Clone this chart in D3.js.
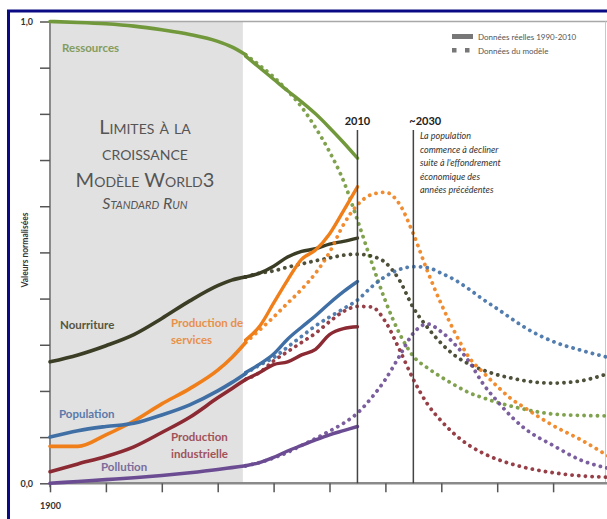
<!DOCTYPE html>
<html><head><meta charset="utf-8">
<script src="https://cdn.jsdelivr.net/npm/d3@7"></script>
<style>
html,body{margin:0;padding:0;background:#fff;}
svg{display:block;font-family:Lato,"Open Sans",sans-serif;}
</style></head>
<body>
<svg id="chart" width="607" height="519"></svg>
<script>
// ---------- DATA ----------
const modelYears = [1900,1910,1920,1930,1940,1950,1960,1965,1970,1975,1980,1985,1990,1995,2000,2005,2010,2015,2020,2025,2030,2035,2040,2045,2050,2055,2060,2065,2070,2080,2090,2100];
const resourcesModel = [1.0,0.998,0.995,0.99,0.982,0.972,0.957,0.945,0.928,0.905,0.88,0.85,0.815,0.77,0.718,0.655,0.57,0.48,0.395,0.325,0.275,0.25,0.23,0.212,0.196,0.185,0.175,0.167,0.16,0.15,0.147,0.146];
const servicesModel  = [0.08,0.08,0.105,0.135,0.172,0.205,0.245,0.272,0.305,0.332,0.36,0.39,0.42,0.455,0.5,0.56,0.603,0.625,0.63,0.605,0.54,0.46,0.388,0.325,0.272,0.24,0.21,0.183,0.163,0.125,0.094,0.058];
const foodModel      = [0.263,0.278,0.298,0.322,0.357,0.395,0.428,0.44,0.447,0.455,0.46,0.468,0.475,0.482,0.488,0.494,0.496,0.492,0.478,0.44,0.38,0.338,0.303,0.276,0.258,0.245,0.235,0.228,0.222,0.217,0.222,0.238];
const populationModel= [0.1,0.114,0.123,0.13,0.148,0.17,0.2,0.218,0.238,0.256,0.272,0.295,0.318,0.341,0.36,0.378,0.397,0.425,0.448,0.463,0.469,0.467,0.455,0.44,0.42,0.398,0.378,0.357,0.337,0.307,0.288,0.272];
const industryModel  = [0.025,0.042,0.058,0.079,0.11,0.143,0.185,0.205,0.225,0.24,0.265,0.285,0.305,0.325,0.35,0.372,0.383,0.382,0.35,0.29,0.225,0.172,0.135,0.105,0.082,0.065,0.052,0.042,0.034,0.023,0.016,0.013];
const pollutionModel = [0.0,0.004,0.008,0.012,0.017,0.023,0.03,0.034,0.038,0.045,0.055,0.067,0.082,0.097,0.113,0.13,0.152,0.185,0.225,0.275,0.325,0.345,0.328,0.3,0.263,0.215,0.178,0.145,0.118,0.082,0.05,0.032];

const realYears = [1970,1975,1980,1985,1990,1995,2000,2005,2010];
const resourcesReal  = [0.925,0.9,0.875,0.85,0.826,0.8,0.77,0.738,0.704];
const servicesReal   = [0.31,0.34,0.39,0.44,0.485,0.505,0.54,0.59,0.642];
const foodReal       = [0.447,0.455,0.47,0.49,0.502,0.508,0.518,0.524,0.531];
const populationReal = [0.24,0.258,0.28,0.312,0.338,0.363,0.39,0.415,0.437];
const industryReal   = [0.225,0.24,0.257,0.263,0.278,0.29,0.322,0.335,0.339];
const pollutionReal  = [0.038,0.045,0.056,0.07,0.082,0.094,0.105,0.114,0.123];

const seriesNames = ["Ressources","Nourriture","Production de services","Population","Production industrielle","Pollution"];
const xTicks = [1900,1920,1940,1960,1980,2000,2020,2040,2060,2080,2100];
const yTicks = [0,0.1,0.2,0.3,0.4,0.5,0.6,0.7,0.8,0.9,1.0];
const shadeYears = [1900,1969];
const markerYears = [2010,2030];
const legendLabels = ["Données réelles 1990-2010","Données du modèle"];
const titleLines = ["Limites à la","croissance","Modèle World3","Standard Run"];
const noteLines = ["La population","commence à decliner","suite à l'effondrement","économique des","années précédentes"];

// ---------- SETUP ----------
const svg = d3.select("#chart");
const x = d3.scaleLinear().domain([1900,2100]).range([50,609]);
const y = d3.scaleLinear().domain([0,1]).range([483.3,21.5]);

const series = [
  {name:"Ressources", model:resourcesModel, real:resourcesReal, color:"#72983c", label:"#849c5e", lx:62, ly:52, lines:["Ressources"]},
  {name:"Nourriture", model:foodModel, real:foodReal, color:"#3b3d25", label:"#55553f", lx:60, ly:329, lines:["Nourriture"]},
  {name:"Production de services", model:servicesModel, real:servicesReal, color:"#f07f1a", label:"#e8904a", lx:171, ly:327, lines:["Production de","services"]},
  {name:"Population", model:populationModel, real:populationReal, color:"#3f6fa5", label:"#5a7aab", lx:59, ly:418, lines:["Population"]},
  {name:"Production industrielle", model:industryModel, real:industryReal, color:"#8c2a33", label:"#a0525a", lx:171, ly:441, lines:["Production","industrielle"]},
  {name:"Pollution", model:pollutionModel, real:pollutionReal, color:"#6b4c93", label:"#7a6c9c", lx:101, ly:471, lines:["Pollution"]}
];

// frame (navy)
svg.append("line").attr("x1",7).attr("x2",607).attr("y1",11).attr("y2",11).attr("stroke","#0a0a84").attr("stroke-width",3);
svg.append("line").attr("x1",8.5).attr("x2",8.5).attr("y1",10).attr("y2",519).attr("stroke","#0a0a84").attr("stroke-width",3);

// shaded area
svg.append("rect").attr("x",x(shadeYears[0])).attr("y",y(1)).attr("width",x(shadeYears[1])-x(shadeYears[0])).attr("height",y(0)-y(1)).attr("fill","#e1e1e1");

// plot frame top & right
svg.append("line").attr("x1",50).attr("x2",607).attr("y1",y(1)).attr("y2",y(1)).attr("stroke","#a8a8a8").attr("stroke-width",1.5);
svg.append("line").attr("x1",605.5).attr("x2",605.5).attr("y1",y(1)).attr("y2",y(0)).attr("stroke","#c8c8c8").attr("stroke-width",1);

// title in shaded area
const tcx = 145;
const tg = svg.append("g").attr("fill","#555").attr("text-anchor","middle").style("font-variant","small-caps");
tg.append("text").attr("x",tcx).attr("y",134).attr("font-size",20).text(titleLines[0]);
tg.append("text").attr("x",tcx).attr("y",160).attr("font-size",20).text(titleLines[1]);
tg.append("text").attr("x",tcx).attr("y",187).attr("font-size",20).text(titleLines[2]);
tg.append("text").attr("x",tcx).attr("y",209).attr("font-size",16).attr("font-style","italic").text(titleLines[3]);

// axes
const yAxis = d3.axisLeft(y).tickValues(yTicks).tickSize(10).tickSizeOuter(0).tickPadding(7)
  .tickFormat(d => (d===0||d===1) ? d3.format(".1f")(d).replace(".",",") : "");
const gy = svg.append("g").attr("transform","translate(50,0)").call(yAxis);
gy.select(".domain").attr("stroke","#8a8a8a").attr("stroke-width",2).attr("d",`M0,${y(1)}V${y(0)+4}`);
gy.selectAll(".tick line").attr("stroke","#555").attr("stroke-width",1.5);
gy.selectAll(".tick text").attr("font-size",9).attr("font-weight","bold").attr("fill","#333").attr("font-family","Lato, sans-serif");

const xAxis = d3.axisBottom(x).tickValues(xTicks).tickSize(9).tickSizeOuter(0).tickPadding(10)
  .tickFormat(d => d===1900 ? "1900" : "");
const gx = svg.append("g").attr("transform",`translate(0,${y(0)})`).call(xAxis);
gx.select(".domain").attr("stroke","#8a8a8a").attr("stroke-width",2.5).attr("d",`M50,0H607`);
gx.selectAll(".tick line").attr("stroke","#555").attr("stroke-width",1.5);
gx.selectAll(".tick text").attr("font-size",9).attr("font-weight","bold").attr("fill","#333").attr("font-family","Lato, sans-serif");

// y label
svg.append("text").attr("transform","translate(28,250) rotate(-90)").attr("text-anchor","middle")
  .attr("font-size",8.5).attr("font-weight","bold").attr("fill","#333").text("Valeurs normalisées");

// lines
const line = d3.line().x(d=>x(d[0])).y(d=>y(d[1])).curve(d3.curveMonotoneX);
const gl = svg.append("g").attr("fill","none");
series.forEach(s => {
  const m = modelYears.map((yr,i)=>[yr,s.model[i]]);
  const early = m.filter(d=>d[0]<=1970);
  const late = m.filter(d=>d[0]>=1970);
  const real = realYears.map((yr,i)=>[yr,s.real[i]]);
  gl.append("path").attr("d",line(early)).attr("stroke",s.color).attr("stroke-width",3.6).attr("stroke-linecap","round");
  gl.append("path").attr("d",line(real)).attr("stroke",s.color).attr("stroke-width",3.4).attr("stroke-linecap","round");
  gl.append("path").attr("d",line(late)).attr("stroke",s.color).attr("stroke-width",3.8)
    .attr("stroke-linecap","round").attr("stroke-dasharray","0.1 6.6").attr("opacity",0.9);
});

// series labels
series.forEach(s => {
  s.lines.forEach((t,i) => {
    svg.append("text").attr("x",s.lx).attr("y",s.ly+i*16.5).attr("font-size",11.5).attr("font-weight","bold")
      .attr("fill",s.label).text(t);
  });
});

// vertical markers
markerYears.forEach(yr => {
  svg.append("line").attr("x1",x(yr)).attr("x2",x(yr)).attr("y1",130).attr("y2",y(0))
    .attr("stroke","#444").attr("stroke-width",1.5);
});
svg.append("text").attr("x",x(2010)).attr("y",125).attr("text-anchor","middle").attr("font-size",11).attr("font-weight","bold").attr("fill","#222").text("2010");
svg.append("text").attr("x",x(2030)-4).attr("y",125).attr("font-size",11).attr("font-weight","bold").attr("fill","#222").text("~2030");
noteLines.forEach((t,i) => {
  svg.append("text").attr("x",420).attr("y",139+i*13.5).attr("font-size",9).attr("font-style","italic").attr("fill","#333").text(t);
});

// legend
const lg = svg.append("g");
lg.append("rect").attr("x",452).attr("y",34).attr("width",21).attr("height",5).attr("fill","#777");
lg.append("rect").attr("x",452).attr("y",48).attr("width",4.5).attr("height",4.5).attr("fill","#777");
lg.append("rect").attr("x",465).attr("y",48).attr("width",4.5).attr("height",4.5).attr("fill","#777");
lg.append("text").attr("x",478).attr("y",39.5).attr("font-size",8).attr("fill","#555").text(legendLabels[0]);
lg.append("text").attr("x",478).attr("y",53.5).attr("font-size",8).attr("fill","#555").text(legendLabels[1]);
</script>
</body></html>
